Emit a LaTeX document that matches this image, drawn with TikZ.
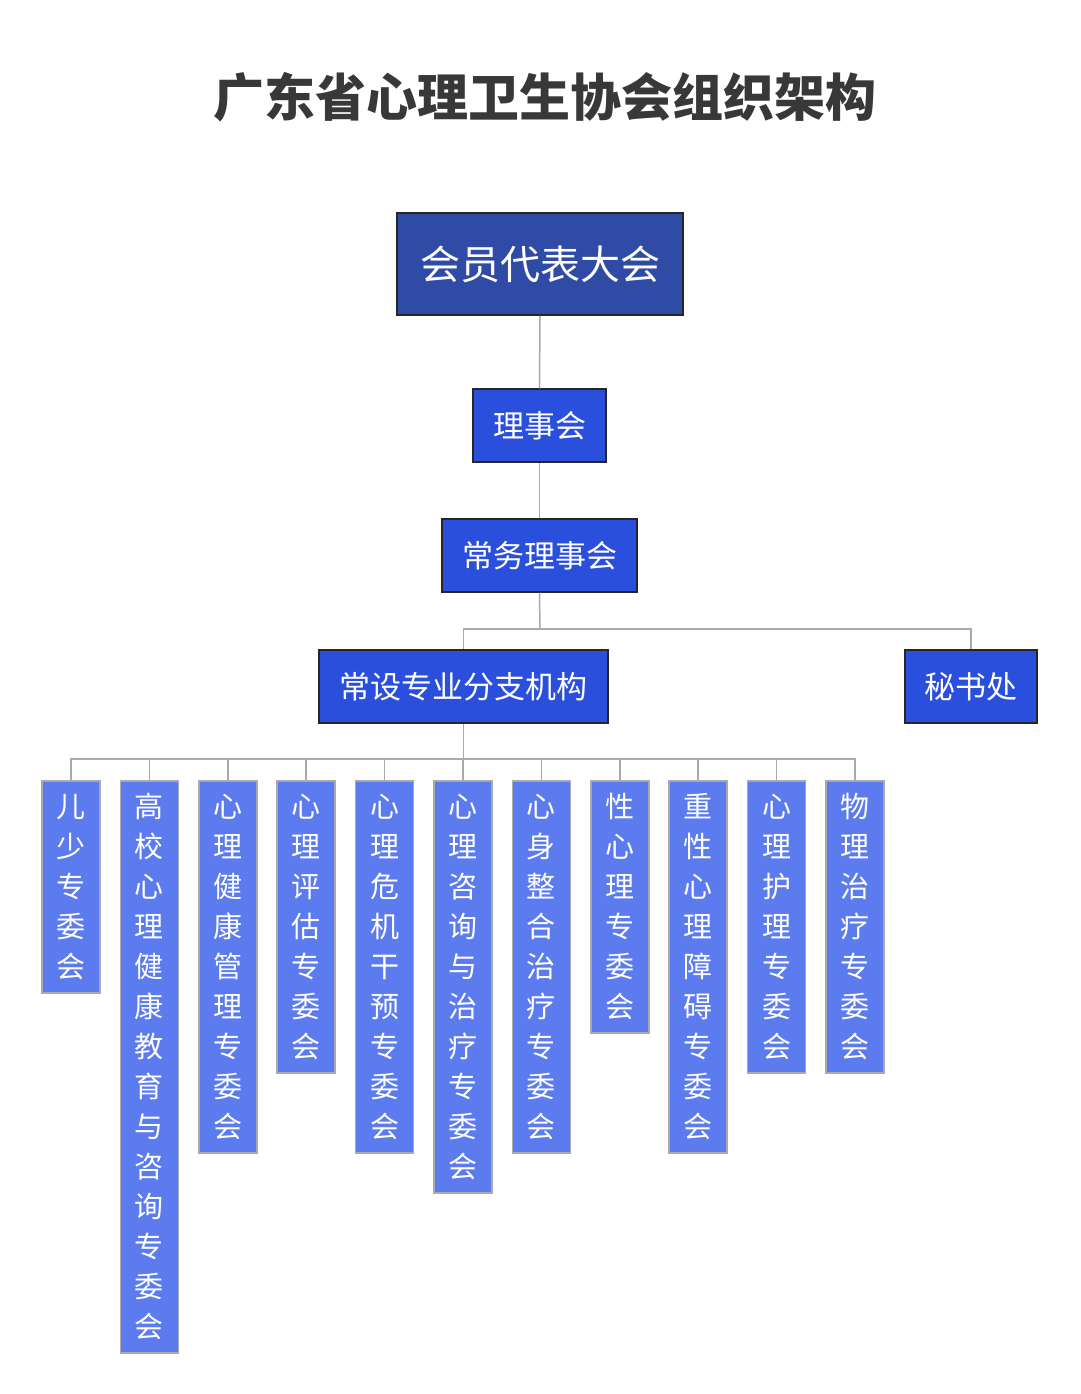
\documentclass[tikz,border=0pt]{standalone}
\usepackage{fontspec}
\setmainfont{Noto Sans CJK SC}
\usepackage{tikz}
\definecolor{topblue}{HTML}{2F4BA6}
\definecolor{midblue}{HTML}{2A4FDD}
\definecolor{leafblue}{HTML}{5B7BEE}
\definecolor{linegray}{HTML}{AAAAAA}
\definecolor{titlegray}{HTML}{383838}
\tikzset{
  headbox/.style={draw=black!85, line width=1.5pt, fill=midblue, text=white, inner sep=0pt, font=\fontsize{31}{31}\selectfont},
  leafbox/.style={draw=linegray, line width=1.5pt, fill=leafblue, text=white, inner sep=0pt, minimum width=58, align=center, anchor=north, font=\fontsize{29}{40}\selectfont},
  link/.style={draw=linegray, line width=1.5pt}
}
\begin{document}
\begin{tikzpicture}[x=1pt, y=-1pt]
\useasboundingbox (0,0) rectangle (1080,1394);
\node[text=titlegray, font=\bfseries\fontsize{51}{51}\selectfont] (title) at (545,97) {广东省心理卫生协会组织架构};
\node[headbox, fill=topblue, minimum width=286, minimum height=102, font=\fontsize{40}{40}\selectfont] (dh) at (540,264) {会员代表大会};
\node[headbox, minimum width=133, minimum height=73] (lsh) at (539.5,425.5) {理事会};
\node[headbox, minimum width=195, minimum height=73] (cw) at (539.5,555.5) {常务理事会};
\node[headbox, minimum width=289, minimum height=73] (fz) at (463.5,686.5) {常设专业分支机构};
\node[headbox, minimum width=132, minimum height=73] (msc) at (971,686.5) {秘书处};
\coordinate (busA) at (540,629);
\coordinate (busB) at (463.5,759);
\draw[link] (dh.south) -- (lsh.north);
\draw[link] (lsh.south) -- (cw.north);
\draw[link] (cw.south) -- (busA);
\draw[link] (fz.north) |- (busA) -| (msc.north);
\draw[link] (fz.south) -- (busB);
\foreach \i/\n/\t in {0/5/{儿\\少\\专\\委\\会},
  1/14/{高\\校\\心\\理\\健\\康\\教\\育\\与\\咨\\询\\专\\委\\会},
  2/9/{心\\理\\健\\康\\管\\理\\专\\委\\会},
  3/7/{心\\理\\评\\估\\专\\委\\会},
  4/9/{心\\理\\危\\机\\干\\预\\专\\委\\会},
  5/10/{心\\理\\咨\\询\\与\\治\\疗\\专\\委\\会},
  6/9/{心\\身\\整\\合\\治\\疗\\专\\委\\会},
  7/6/{性\\心\\理\\专\\委\\会},
  8/9/{重\\性\\心\\理\\障\\碍\\专\\委\\会},
  9/7/{心\\理\\护\\理\\专\\委\\会},
  10/7/{物\\理\\治\\疗\\专\\委\\会}}{
  \node[leafbox, minimum height={40*\n+12}] (leaf\i) at ({71+78.4*\i},780) {\t};
  \draw[link] (leaf\i.north) |- (busB);
}
\end{tikzpicture}
\end{document}
